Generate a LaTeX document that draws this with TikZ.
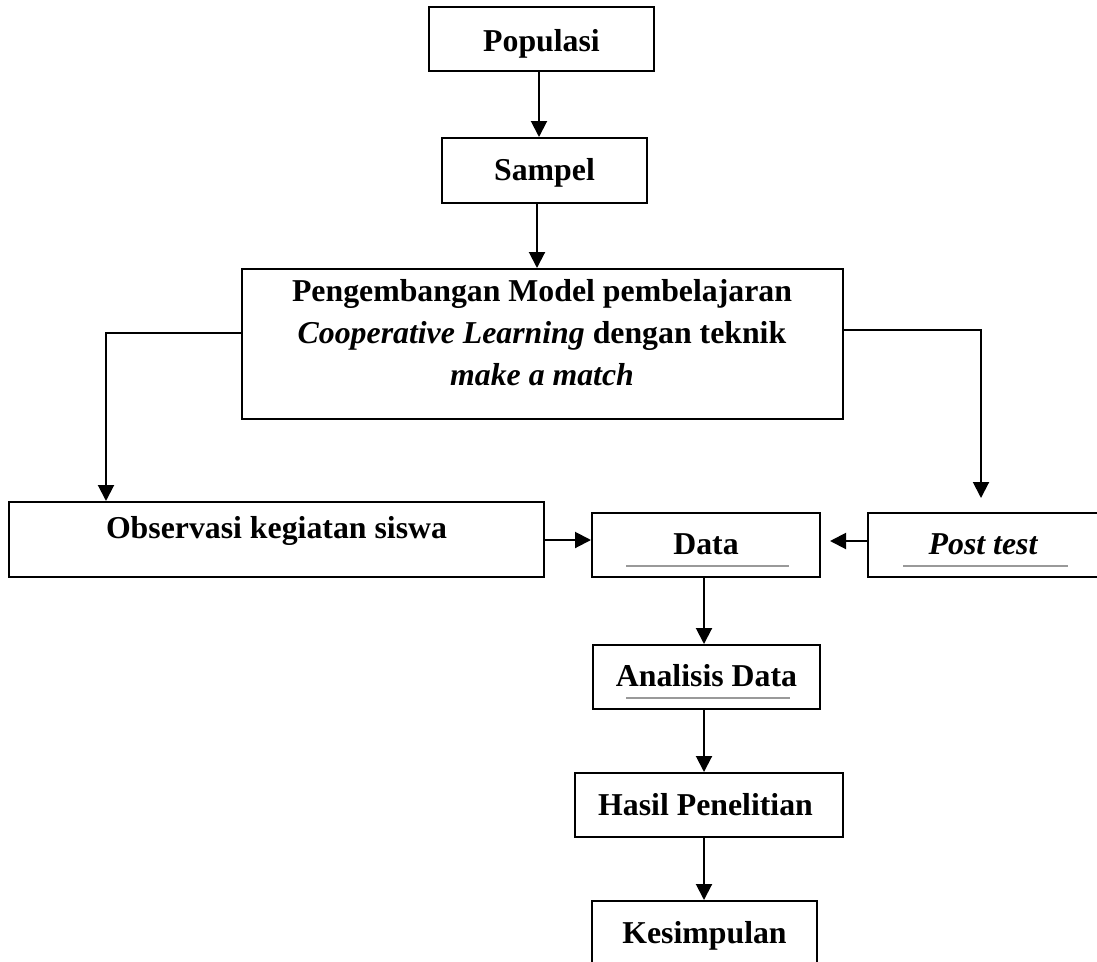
\documentclass[tikz,border=0pt]{standalone}
\usepackage{fontspec}
\setmainfont{Liberation Serif}
\usetikzlibrary{arrows.meta}
\tikzset{
  box/.style={draw=black, line width=2pt, rectangle, inner sep=0pt},
  lbl/.style={anchor=base, inner sep=0pt, font=\fontsize{31.8}{36}\selectfont\bfseries},
  arr/.style={draw=black, line width=2pt, -{Triangle[length=16pt,width=16pt]}},
  conn/.style={draw=black, line width=2pt},
  uline/.style={draw=gray!80, line width=1.3pt}
}
\begin{document}
\begin{tikzpicture}[x=1pt,y=-1pt]
\useasboundingbox (0,0) rectangle (1097,961);
\clip (0,0) rectangle (1097,961);
% boxes
\node[box, minimum width=225pt, minimum height=64pt] (pop) at (541.5,39) {};
\node[box, minimum width=205pt, minimum height=65pt] (sam) at (544.5,170.5) {};
\node[box, minimum width=601pt, minimum height=150pt] (peng) at (542.5,344) {};
\node[box, minimum width=535pt, minimum height=75pt] (obs) at (276.5,539.5) {};
\node[box, minimum width=228pt, minimum height=64pt] (data) at (706,545) {};
\node[box, minimum width=242pt, minimum height=64pt] (post) at (989,545) {};
\node[box, minimum width=227pt, minimum height=64pt] (ana) at (706.5,677) {};
\node[box, minimum width=268pt, minimum height=64pt] (has) at (709,805) {};
\node[box, minimum width=225pt, minimum height=69pt] (kes) at (704.5,935.5) {};
% texts
\node[lbl] (tpop) at (541.5,51) {Populasi};
\node[lbl] (tsam) at (544.5,180) {Sampel};
\node[lbl] (tp1) at (542,301) {Pengembangan Model pembelajaran};
\node[lbl] (tp2) at (542,343) {\itshape Cooperative Learning\upshape{} dengan teknik};
\node[lbl] (tp3) at (542,385) {\itshape make a match};
\node[lbl] (tobs) at (276.5,538) {Observasi kegiatan siswa};
\node[lbl] (tdata) at (706,554) {Data};
\node[lbl] (tpost) at (983,554) {\itshape Post test};
\node[lbl] (tana) at (706.5,686) {Analisis Data};
\node[lbl] (thas) at (705.5,815) {Hasil Penelitian};
\node[lbl] (tkes) at (704.5,943) {Kesimpulan};
% underlines
\coordinate (u1a) at (626,566); \coordinate (u1b) at (789,566);
\coordinate (u2a) at (903,566); \coordinate (u2b) at (1068,566);
\coordinate (u3a) at (626,698); \coordinate (u3b) at (790,698);
\draw[uline] (u1a) -- (u1b);
\draw[uline] (u2a) -- (u2b);
\draw[uline] (u3a) -- (u3b);
% connectors
\draw[arr] ([xshift=-2.5pt]pop.south) -- ([xshift=-2.5pt]pop.south |- sam.north);
\draw[arr] ([xshift=-7.5pt]sam.south) -- ([xshift=-7.5pt]sam.south |- peng.north);
\coordinate (lt) at (106,333);
\draw[arr] (peng.west |- lt) -- (lt) -- (lt |- obs.north);
\coordinate (rt) at (981,330);
\coordinate (rtend) at (981,498);
\draw[arr] (peng.east |- rt) -- (rt) -- (rtend);
\coordinate (od) at (544,540);
\draw[arr] (obs.east |- od) -- (data.west |- od);
\coordinate (pd) at (830,541);
\draw[arr] (post.west |- pd) -- (pd);
\draw[arr] ([xshift=-2pt]data.south) -- ([xshift=-2pt]data.south |- ana.north);
\draw[arr] ([xshift=-2.5pt]ana.south) -- ([xshift=-2.5pt]ana.south |- has.north);
\draw[arr] ([xshift=-5pt]has.south) -- ([xshift=-5pt]has.south |- kes.north);
\end{tikzpicture}
\end{document}
